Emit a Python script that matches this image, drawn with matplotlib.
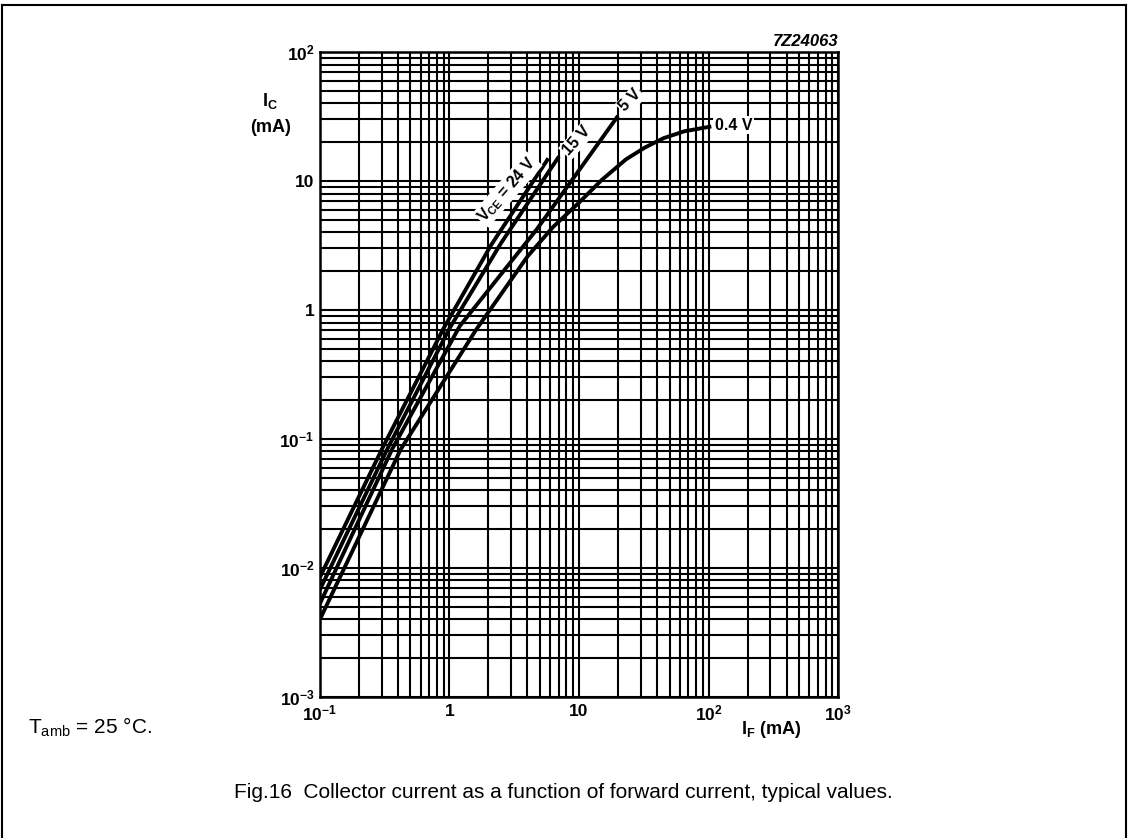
import matplotlib.pyplot as plt
from matplotlib.lines import Line2D
from matplotlib.ticker import LogLocator, FixedLocator, FixedFormatter

plt.rcParams['font.family'] = ['Liberation Sans', 'DejaVu Sans']
plt.rcParams['mathtext.fontset'] = 'custom'
plt.rcParams['mathtext.rm'] = 'Liberation Sans'
plt.rcParams['mathtext.it'] = 'Liberation Sans:italic'
plt.rcParams['mathtext.bf'] = 'Liberation Sans:bold'
plt.rcParams['mathtext.default'] = 'regular'

# curves: forward current IF (mA) -> collector current IC (mA)
if_24v = [0.1, 0.3, 0.9, 2.1, 5.8]
ic_24v = [0.0085, 0.083, 0.72, 3.2, 15.0]

if_15v = [0.1, 0.33, 1.0, 2.5, 7.0]
ic_15v = [0.0068, 0.083, 0.72, 3.3, 15.5]

if_5v = [0.1, 0.36, 1.2, 4.7, 20.0]
ic_5v = [0.0053, 0.083, 0.75, 4.2, 32.0]

if_04v = [0.1, 0.42, 1.6, 4.0, 6.3, 10.0, 15.0, 23.0, 32.0, 45.0, 65.0, 105.0]
ic_04v = [0.004, 0.083, 0.70, 2.6, 4.4, 6.8, 10.2, 14.7, 18.1, 21.5, 24.3, 26.5]

x_ticks = [0.1, 1, 10, 100, 1000]
x_labels = ['$10^{-1}$', '1', '10', '$10^{2}$', '$10^{3}$']
y_ticks = [0.001, 0.01, 0.1, 1, 10, 100]
y_labels = ['$10^{-3}$', '$10^{-2}$', '$10^{-1}$', '1', '10', '$10^{2}$']

fig = plt.figure(figsize=(11.29, 8.38), dpi=100)
ax = fig.add_axes([0.2834, 0.1683, 0.4589, 0.7696])
ax.set_xscale('log')
ax.set_yscale('log')
ax.set_xlim(0.1, 1000)
ax.set_ylim(0.001, 100)

ax.xaxis.set_major_locator(FixedLocator(x_ticks))
ax.xaxis.set_major_formatter(FixedFormatter(x_labels))
ax.yaxis.set_major_locator(FixedLocator(y_ticks))
ax.yaxis.set_major_formatter(FixedFormatter(y_labels))
ax.xaxis.set_minor_locator(LogLocator(base=10, subs=range(2, 10), numticks=20))
ax.yaxis.set_minor_locator(LogLocator(base=10, subs=range(2, 10), numticks=20))
ax.xaxis.set_minor_formatter(plt.NullFormatter())
ax.yaxis.set_minor_formatter(plt.NullFormatter())
ax.tick_params(which='both', length=0)
ax.tick_params(axis='x', pad=5, labelsize=12.5)
ax.tick_params(axis='y', pad=4, labelsize=12.5)
for lab in ax.get_xticklabels() + ax.get_yticklabels():
    lab.set_fontweight('bold')

ax.grid(which='both', color='black', linewidth=1.5)
ax.set_axisbelow(True)
for sp in ax.spines.values():
    sp.set_linewidth(1.8)

for xs, ys in [(if_24v, ic_24v), (if_15v, ic_15v), (if_5v, ic_5v), (if_04v, ic_04v)]:
    ax.plot(xs, ys, color='black', linewidth=2.8, solid_capstyle='butt', zorder=3)

box = dict(facecolor='white', edgecolor='none', pad=1.0)
ax.text(2.8, 8.6, 'V$_{CE}$ = 24 V', rotation=49, ha='center', va='center',
        fontsize=11.5, fontweight='bold', bbox=box, zorder=4)
ax.text(9.6, 20.5, '15 V', rotation=48, ha='center', va='center',
        fontsize=11.5, fontweight='bold', bbox=box, zorder=4)
ax.text(25, 42, '5 V', rotation=46, ha='center', va='center',
        fontsize=11.5, fontweight='bold', bbox=box, zorder=4)
ax.text(112, 27, '0.4 V', ha='left', va='center',
        fontsize=11.5, fontweight='bold', bbox=box, zorder=4)

fig.text(0.239, 0.8795, 'I$_C$', ha='center', va='center', fontsize=13, fontweight='bold')
fig.text(0.240, 0.8484, '(mA)', ha='center', va='center', fontsize=13, fontweight='bold')
fig.text(0.683, 0.130, 'I$_F$ (mA)', ha='center', va='center', fontsize=13, fontweight='bold')
fig.text(0.743, 0.9500, '7Z24063', ha='right', va='center', fontsize=12,
         fontweight='bold', style='italic')

fig.text(0.0248, 0.1325, 'T$_{amb}$ = 25 °C.', ha='left', va='center', fontsize=15)
fig.text(0.4987, 0.0537, 'Fig.16  Collector current as a function of forward current, typical values.',
         ha='center', va='center', fontsize=15)

# outer frame (left, top, right)
fx0, fx1, fy1 = 2 / 1129, 1126 / 1129, 1 - 5 / 838
fig.add_artist(Line2D([fx0, fx0], [0, fy1], transform=fig.transFigure, color='black', lw=1.5))
fig.add_artist(Line2D([fx0, fx1], [fy1, fy1], transform=fig.transFigure, color='black', lw=1.5))
fig.add_artist(Line2D([fx1, fx1], [0, fy1], transform=fig.transFigure, color='black', lw=1.5))

fig.savefig('out.png', dpi=100)
